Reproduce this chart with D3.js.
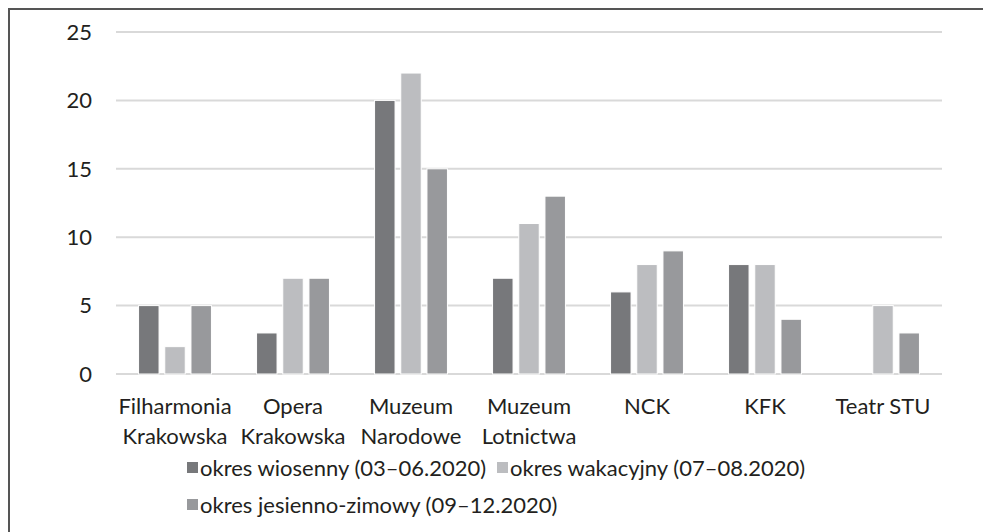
<!DOCTYPE html>
<html>
<head>
<meta charset="utf-8">
<script src="https://cdn.jsdelivr.net/npm/d3@7"></script>
<style>
  body { margin: 0; background: #fff; }
  text { font-family: Lato, "Open Sans", sans-serif; fill: #231f20; }
</style>
</head>
<body>
<div id="chart"></div>
<script>
// data
var categories = [
  ["Filharmonia", "Krakowska"],
  ["Opera", "Krakowska"],
  ["Muzeum", "Narodowe"],
  ["Muzeum", "Lotnictwa"],
  ["NCK"],
  ["KFK"],
  ["Teatr STU"]
];
var seriesNames = [
  "okres wiosenny (03\u201306.2020)",
  "okres wakacyjny (07\u201308.2020)",
  "okres jesienno-zimowy (09\u201312.2020)"
];
var spring = [5, 3, 20, 7, 6, 8, 0];
var summer = [2, 7, 22, 11, 8, 8, 5];
var autumn = [5, 7, 15, 13, 9, 4, 3];
var yTicks = [0, 5, 10, 15, 20, 25];
var colors = ["#77787b", "#bcbdc0", "#98999c"];

var width = 983,
  height = 532,
  fontSize = "22px",
  plot = { left: 116, right: 942, top: 32, bottom: 374 };

var svg = d3.select("#chart").append("svg")
  .attr("width", width)
  .attr("height", height);

// outer frame (only left and top edges visible in the crop)
svg.append("path")
  .attr("d", "M9," + height + "V9H" + width)
  .attr("fill", "none")
  .attr("stroke", "#555")
  .attr("stroke-width", 2);

var keys = categories.map(function(c, i){ return i; });
var x0 = d3.scaleBand().domain(keys).range([plot.left, plot.right]);
var x1 = d3.scaleBand().domain([0, 1, 2])
  .range([0, x0.bandwidth()])
  .paddingInner(0.218)
  .paddingOuter(0.861);
var y = d3.scaleLinear().domain([0, 25]).range([plot.bottom, plot.top]);

// grid
svg.append("g").selectAll("line")
  .data(yTicks)
  .enter().append("line")
  .attr("x1", plot.left)
  .attr("x2", plot.right)
  .attr("y1", function(d){ return y(d); })
  .attr("y2", function(d){ return y(d); })
  .attr("stroke", "#d9d9d9")
  .attr("stroke-width", 2);

// y labels
svg.append("g").selectAll("text")
  .data(yTicks)
  .enter().append("text")
  .attr("x", 92)
  .attr("y", function(d){ return y(d); })
  .attr("dy", "0.35em")
  .attr("text-anchor", "end")
  .style("font-size", fontSize)
  .text(function(d){ return d; });

// bars
var allSeries = [spring, summer, autumn];
var groups = svg.append("g").selectAll("g")
  .data(allSeries)
  .enter().append("g")
  .attr("fill", function(d, i){ return colors[i]; });

groups.each(function(vals, si){
  d3.select(this).selectAll("rect")
    .data(vals.map(function(v, ci){ return { v: v, c: ci }; }).filter(function(d){ return d.v > 0; }))
    .enter().append("rect")
    .attr("x", function(d){ return x0(d.c) + x1(si); })
    .attr("width", x1.bandwidth())
    .attr("y", function(d){ return y(d.v); })
    .attr("height", function(d){ return y(0) - y(d.v); })
    .attr("stroke", "#fff")
    .attr("stroke-width", 1);
});

// category labels
var cat = svg.append("g").selectAll("text")
  .data(categories)
  .enter().append("text")
  .attr("x", function(d, i){ return x0(i) + x0.bandwidth() / 2; })
  .attr("y", 414)
  .attr("text-anchor", "middle")
  .style("font-size", fontSize);
cat.selectAll("tspan")
  .data(function(d){ return d; })
  .enter().append("tspan")
  .attr("x", function(){ return d3.select(this.parentNode).attr("x"); })
  .attr("dy", function(d, i){ return i ? 30 : 0; })
  .text(function(d){ return d; });

// legend
var legendPos = [[187, 468], [497, 468], [187, 505]];
var leg = svg.append("g").selectAll("g")
  .data(seriesNames)
  .enter().append("g")
  .attr("transform", function(d, i){ return "translate(" + legendPos[i][0] + "," + legendPos[i][1] + ")"; });
leg.append("rect")
  .attr("x", 0)
  .attr("y", -6)
  .attr("width", 11)
  .attr("height", 11)
  .attr("fill", function(d, i){ return colors[i]; });
leg.append("text")
  .attr("x", 13)
  .attr("dy", "0.35em")
  .style("font-size", fontSize)
  .text(function(d){ return d; });
</script>
</body>
</html>
